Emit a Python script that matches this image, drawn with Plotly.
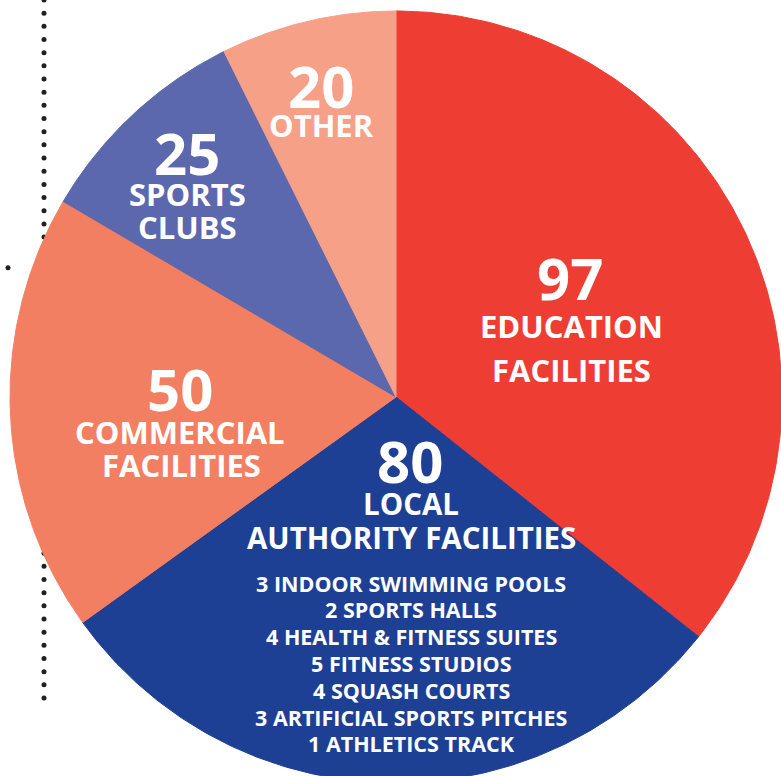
import numpy as np
import plotly.graph_objects as go

categories = ["Education Facilities", "Local Authority Facilities", "Commercial Facilities", "Sports Clubs", "Other"]
values = [97, 80, 50, 25, 20]
colors = ["#EE3D33", "#1D3F94", "#F37F62", "#5B68AD", "#F6A088"]
la_details = ["3 INDOOR SWIMMING POOLS", "2 SPORTS HALLS", "4 HEALTH & FITNESS SUITES",
              "5 FITNESS STUDIOS", "4 SQUASH COURTS", "3 ARTIFICIAL SPORTS PITCHES",
              "1 ATHLETICS TRACK"]

W, H = 781, 776
CX, CY = 396, 397      # pie centre in pixels
R = 386

fig = go.Figure()

# decorative dotted line behind the pie
k = np.arange(0, 54)
fig.add_trace(go.Scatter(x=np.full(k.size, 44 - CX), y=CY - 13.17 * k, mode="markers",
                         marker=dict(size=5, color="#231F20"), hoverinfo="skip", showlegend=False))
fig.add_trace(go.Scatter(x=[8 - CX], y=[CY - 267.7], mode="markers",
                         marker=dict(size=5, color="#231F20"), hoverinfo="skip", showlegend=False))

total = sum(values)
cum = np.concatenate([[0], np.cumsum(values)]) / total * 2 * np.pi
for i, (name, v) in enumerate(zip(categories, values)):
    th = np.linspace(cum[i], cum[i + 1], 200)
    xs = np.concatenate([[0], R * np.sin(th), [0]])
    ys = np.concatenate([[0], R * np.cos(th), [0]])
    fig.add_trace(go.Scatter(x=xs, y=ys, mode="lines", fill="toself", fillcolor=colors[i],
                             line=dict(color=colors[i], width=1), name=name,
                             hoverinfo="name", showlegend=False))

FONT = "Open Sans"

def lab(px, py, text, size):
    fig.add_annotation(x=px - CX, y=CY - py, text=text, showarrow=False,
                       xanchor="center", yanchor="middle",
                       font=dict(family=FONT, size=size, color="white", weight="bold"))

NUM = 58
# Education
lab(570, 277, str(values[0]), NUM)
lab(571, 326, "EDUCATION", 31)
lab(571, 370, "FACILITIES", 31)
# Local authority
lab(410, 460, str(values[1]), NUM)
lab(411, 503, "LOCAL", 29.5)
lab(411, 537, "AUTHORITY FACILITIES", 29.5)
for j, t in enumerate(la_details):
    lab(411, 583 + 26.8 * j, t, 21.5)
# Commercial
lab(180, 388, str(values[2]), NUM)
lab(180, 432, "COMMERCIAL", 31)
lab(181, 465, "FACILITIES", 31)
# Sports clubs
lab(187, 152, str(values[3]), NUM)
lab(187, 194, "SPORTS", 31)
lab(187, 227, "CLUBS", 31)
# Other
lab(321, 85, str(values[4]), NUM)
lab(321, 125, "OTHER", 31)

fig.update_layout(width=W, height=H, margin=dict(l=0, r=0, t=0, b=0),
                  paper_bgcolor="white", plot_bgcolor="white",
                  xaxis=dict(range=[-CX, W - CX], visible=False, fixedrange=True),
                  yaxis=dict(range=[CY - H, CY], visible=False, fixedrange=True),
                  showlegend=False)
fig.write_html("out.html")
